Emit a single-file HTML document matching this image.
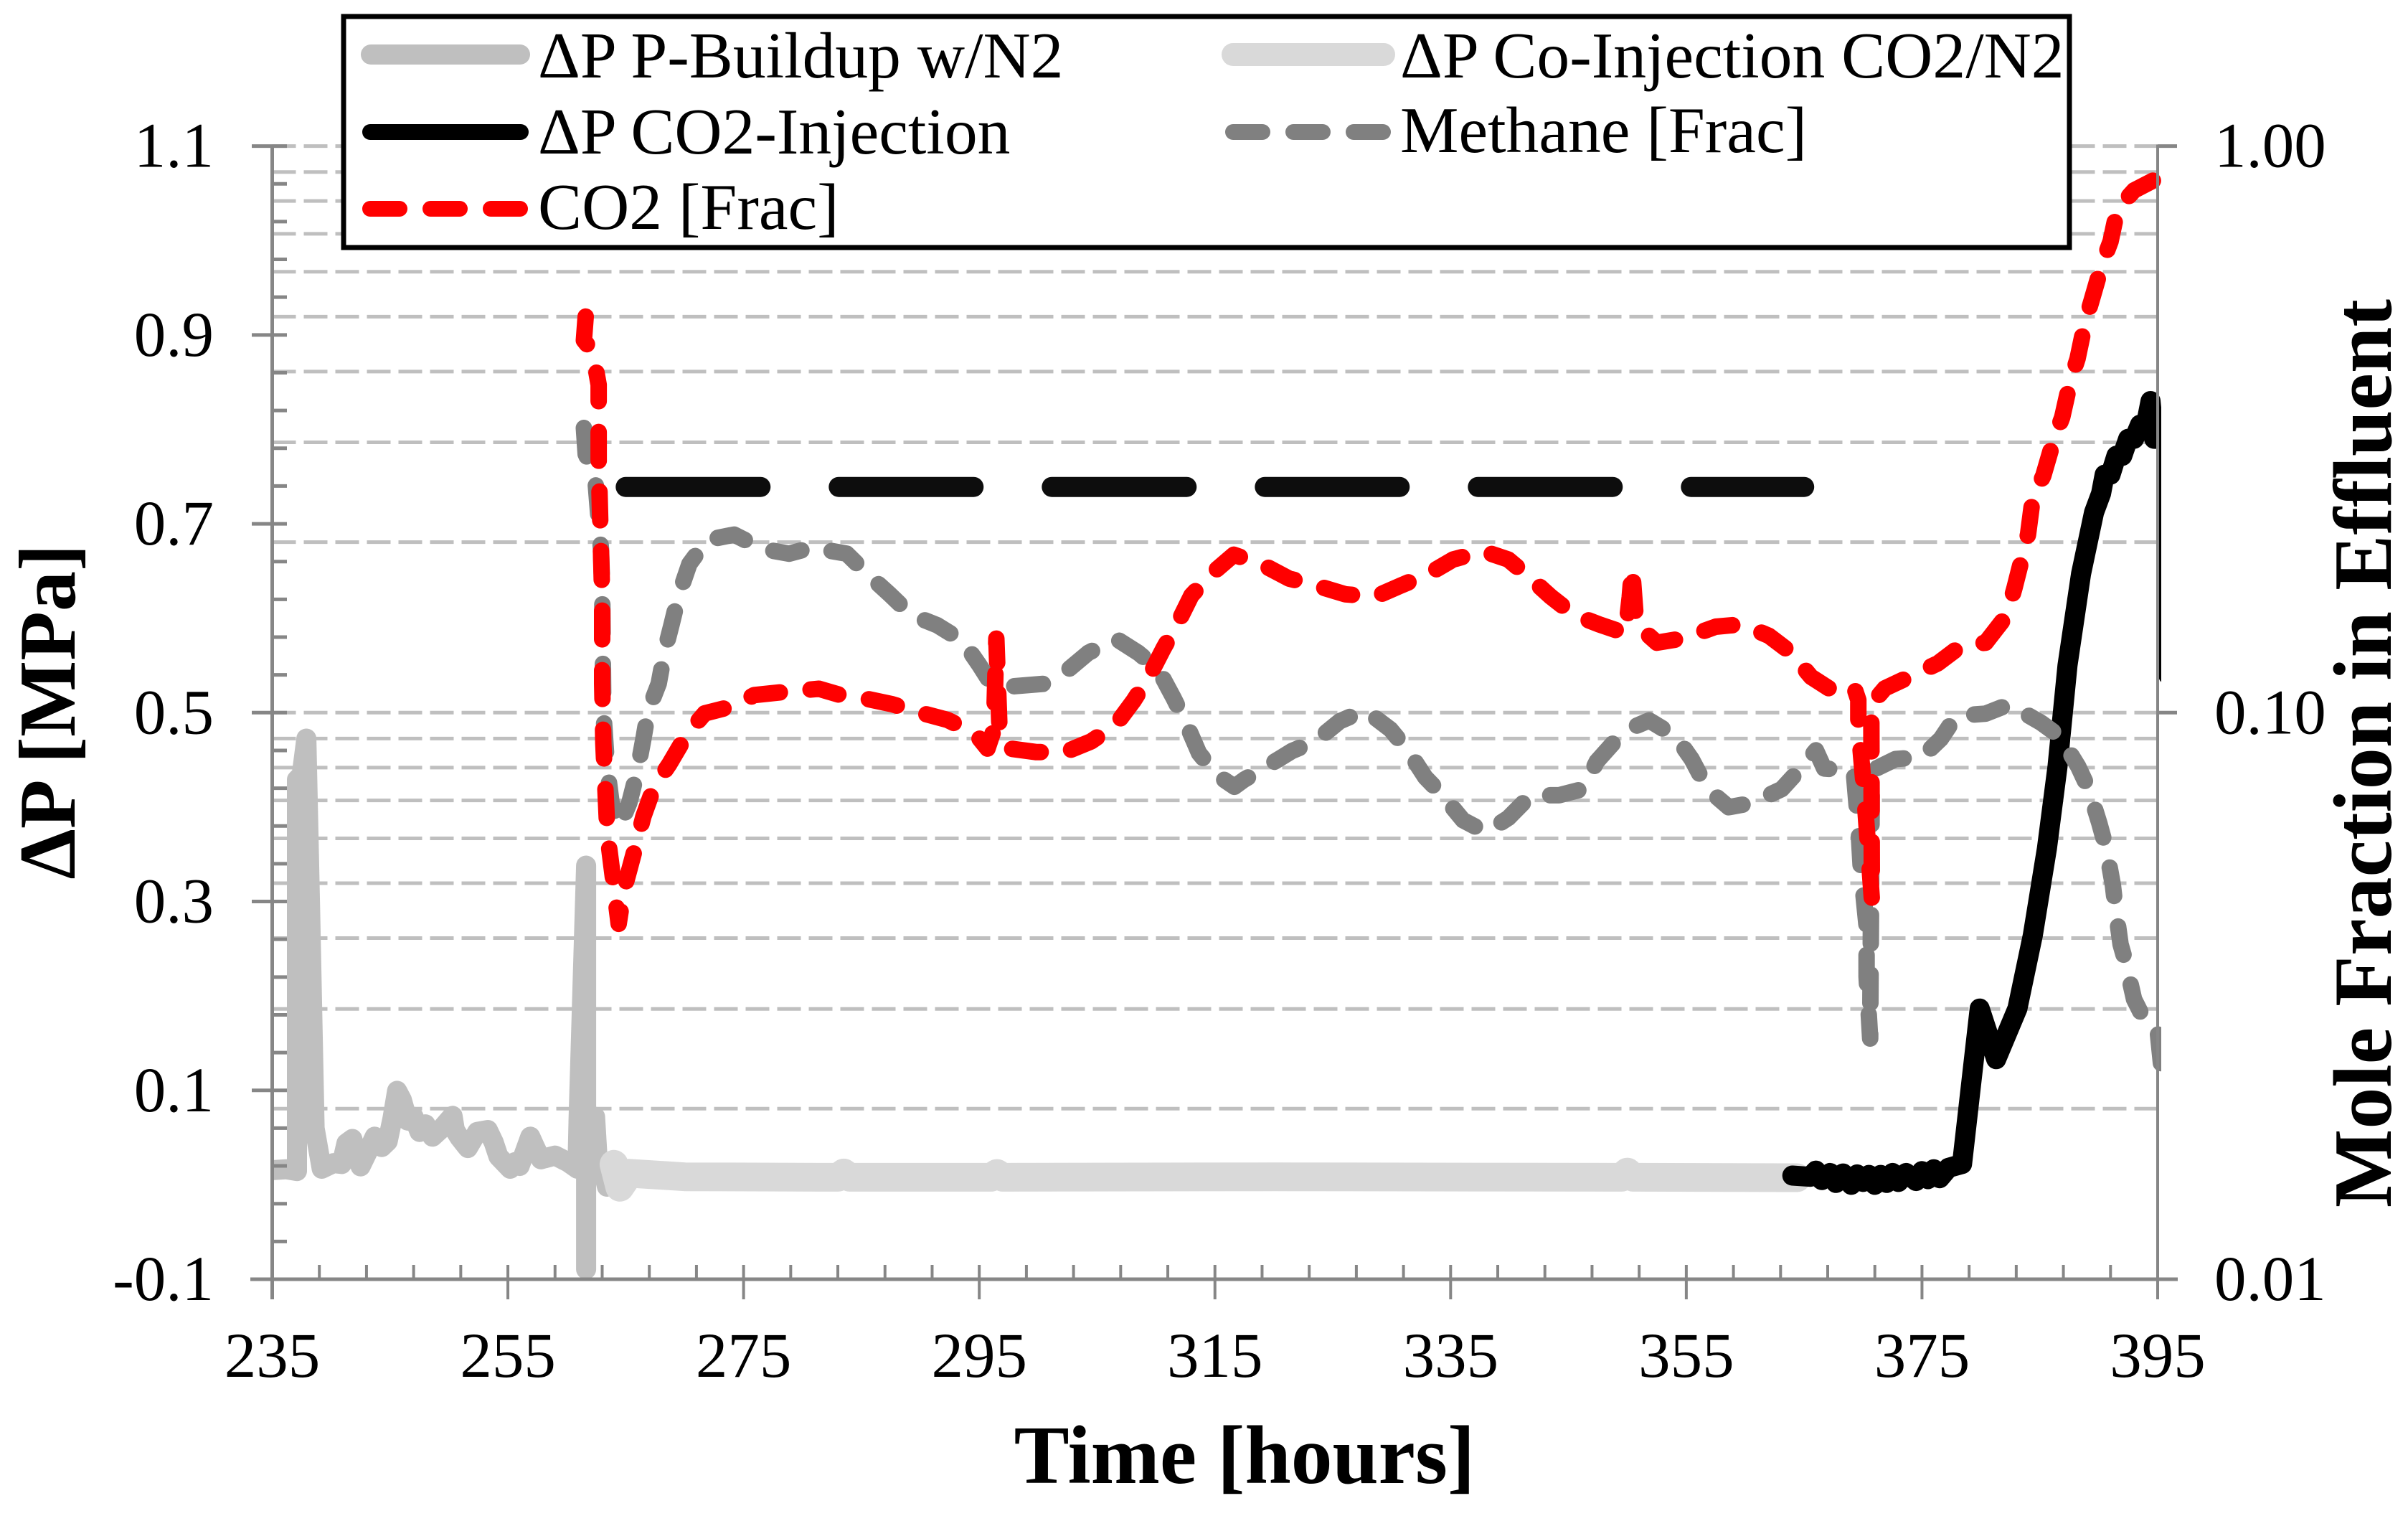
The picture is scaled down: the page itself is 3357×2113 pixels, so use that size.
<!DOCTYPE html>
<html lang="en">
<head>
<meta charset="utf-8">
<title>Differential pressure and effluent mole fraction versus time</title>
<style>
  html, body { margin: 0; padding: 0; background: #fff; }
  svg { display: block; font-family: "Liberation Serif", "Times New Roman", serif; }
  .tick-label { font-size: 89px; fill: #000; }
  .legend-label { font-size: 91.6px; fill: #000; }
  .axis-title { font-size: 115.5px; font-weight: bold; fill: #000; }
</style>
</head>
<body>
<svg id="chart" xmlns="http://www.w3.org/2000/svg" width="3357" height="2113" viewBox="0 0 3357 2113">
  <rect width="3357" height="2113" fill="#fff"/>
  <defs>
    <clipPath id="plot-clip"><rect x="379" y="150" width="2634" height="1640"/></clipPath>
  </defs>
  <g id="grid"></g>
  <g id="series" clip-path="url(#plot-clip)"></g>
  <g id="axes"></g>
  <g id="labels"></g>

  <text class="axis-title" x="1735" y="2067" text-anchor="middle">Time [hours]</text>
  <text class="axis-title" style="font-size:112.5px" text-anchor="middle" transform="translate(104 992) rotate(-90)">ΔP [MPa]</text>
  <text class="axis-title" style="font-size:116px" text-anchor="middle" transform="translate(3333 1050) rotate(-90)">Mole Fraction in Effluent</text>

  <g>
    <rect x="479" y="23" width="2406" height="322" fill="#fff" stroke="#000" stroke-width="7"/>
    <line x1="517" y1="76" x2="725" y2="76" stroke="#bfbfbf" stroke-width="28" stroke-linecap="round"/>
    <text class="legend-label" x="750" y="108">ΔP P-Buildup w/N2</text>
    <line x1="1719" y1="76" x2="1929" y2="76" stroke="#d9d9d9" stroke-width="32" stroke-linecap="round"/>
    <text class="legend-label" x="1952" y="108">ΔP Co-Injection CO2/N2</text>
    <line x1="516" y1="184" x2="726" y2="184" stroke="#000" stroke-width="22" stroke-linecap="round"/>
    <text class="legend-label" x="750" y="214">ΔP CO2-Injection</text>
    <line x1="1719" y1="184" x2="1929" y2="184" stroke="#808080" stroke-width="22" stroke-linecap="round" stroke-dasharray="41 43"/>
    <text class="legend-label" x="1952" y="212">Methane [Frac]</text>
    <line x1="516" y1="291" x2="726" y2="291" stroke="#ff0000" stroke-width="22" stroke-linecap="round" stroke-dasharray="41 43"/>
    <text class="legend-label" x="750" y="319">CO2 [Frac]</text>
  </g>
</svg>
<script>
// ---- tick labels ----
const xTickLabels = [235, 255, 275, 295, 315, 335, 355, 375, 395];
const leftTickLabels = ["-0.1", "0.1", "0.3", "0.5", "0.7", "0.9", "1.1"];
const rightTickLabels = ["0.01", "0.10", "1.00"];
const gridFractions = [0.02, 0.03, 0.04, 0.05, 0.06, 0.07, 0.08, 0.09, 0.1, 0.2, 0.3, 0.4, 0.5, 0.6, 0.7, 0.8, 0.9, 1];

// ---- dP during pressure buildup with N2 [hours, MPa] ----
const buildupHours = [235, 236.2, 237.1, 237.1, 237.5, 237.9, 238.2, 238.6, 239.2, 240.2, 240.9, 241.3, 241.8, 242.2, 242.5, 243.1, 243.7, 244.3, 244.8, 245.2, 245.6, 246.0, 246.5, 247.0, 247.5, 248.0, 248.6, 249.4, 250.3, 250.5, 250.9, 251.6, 252.4, 253.3, 253.8, 254.2, 255.2, 255.6, 256.0, 256.9, 257.3, 257.8, 259.0, 260.1, 260.9, 261.0, 261.64, 261.64, 261.64, 261.2, 261.0, 262.4, 262.6, 263.1, 263.4];
const buildupDp = [0.0155, 0.0165, 0.0146, 0.429, 0.434, 0.4725, 0.3, 0.06, 0.017, 0.023, 0.022, 0.044, 0.0485, 0.03, 0.0195, 0.035, 0.051, 0.04, 0.046, 0.07, 0.0995, 0.09, 0.068, 0.072, 0.056, 0.064, 0.051, 0.06, 0.073, 0.058, 0.05, 0.039, 0.056, 0.058, 0.045, 0.03, 0.017, 0.024, 0.02, 0.051, 0.04, 0.027, 0.031, 0.024, 0.017, 0.07, 0.338, -0.0895, 0.02, 0.072, 0.02, 0.072, 0.03, 0.015, -0.002];

// ---- dP during CO2/N2 co-injection [hours, MPa] ----
const coInjectionHours = [264, 264.5, 265.3, 270, 283, 283.5, 284, 296, 296.5, 297, 320, 349.5, 350, 350.5, 364.4];
const coInjectionDp = [0.0217, -0.0026, 0.0122, 0.0085, 0.008, 0.0125, 0.008, 0.008, 0.012, 0.008, 0.0085, 0.008, 0.0135, 0.008, 0.0075];

// ---- dP during CO2 injection [hours, MPa] ----
const co2InjectionHours = [364, 365.5, 366, 366.5, 367.2, 367.7, 368.3, 369, 369.5, 370, 370.5, 371, 371.5, 372, 372.5, 373, 373.65, 374.5, 375, 375.5, 376, 376.5, 377.25, 378.4, 379.9, 381.3, 383.1, 384.4, 385.6, 386.5, 387.35, 388.5, 389.6, 390.2, 390.5, 391, 391.5, 392, 392.5, 393, 393.5, 394, 394.4, 394.7, 395.9, 395.9];
const co2InjectionDp = [0.0098, 0.0085, 0.015, 0.005, 0.0125, 0.002, 0.012, 0.0, 0.011, 0.003, 0.0105, 0.0, 0.0105, 0.002, 0.0125, 0.003, 0.0125, 0.004, 0.0145, 0.006, 0.0165, 0.007, 0.018, 0.022, 0.1867, 0.133, 0.1867, 0.264, 0.356, 0.443, 0.55, 0.647, 0.712, 0.732, 0.752, 0.752, 0.772, 0.772, 0.79, 0.79, 0.805, 0.805, 0.83, 0.79, 0.79, 0.54];

// ---- unlabelled long-dash dP line [hours, MPa] ----
const longDashHours = [265, 365];
const longDashDp = [0.739, 0.739];

// ---- methane in effluent [hours, mole fraction] ----
const methaneHours = [261.45, 261.6, 262.4, 262.9, 263, 263.1, 263.4, 263.8, 264.5, 265.3, 266, 266.5, 266.9, 267.8, 268.3, 268.9, 269.5, 270.4, 271.9, 274.2, 276.6, 278.85, 280.8, 283.75, 285.5, 287.4, 289.2, 291.45, 293.6, 295, 296.15, 297.85, 300.4, 302.55, 304.25, 306.6, 308.5, 310.2, 311.5, 312.6, 313.65, 315.15, 316.65, 317.5, 319.2, 321.55, 323.5, 325.6, 327.75, 329.9, 331.4, 332.85, 334.2, 336.05, 338, 339.9, 341.8, 344.2, 346.25, 347.4, 348.95, 350.05, 351.85, 354.1, 355.45, 356.8, 358.6, 360.6, 363.1, 364.7, 366, 366.7, 369.2, 369.6, 369.8, 370.3, 370.3, 370.6, 370.75, 372.75, 375, 376.6, 377.9, 380.4, 382.4, 385.1, 386.7, 388.25, 389.15, 390.05, 390.65, 391.2, 391.4, 391.85, 392.3, 393, 394.1, 395, 395.4];
const methaneFrac = [0.318, 0.286, 0.262, 0.1946, 0.1662, 0.1007, 0.0804, 0.0693, 0.0631, 0.0693, 0.0791, 0.0899, 0.1007, 0.1125, 0.1282, 0.1433, 0.1614, 0.183, 0.2017, 0.2062, 0.1946, 0.1908, 0.1956, 0.1908, 0.1757, 0.1618, 0.1489, 0.1426, 0.1338, 0.1214, 0.1113, 0.1113, 0.1124, 0.1191, 0.1275, 0.1351, 0.1275, 0.1191, 0.106, 0.0953, 0.0848, 0.0777, 0.074, 0.0762, 0.0799, 0.0856, 0.089, 0.0966, 0.101, 0.0934, 0.0856, 0.0769, 0.0719, 0.0646, 0.0615, 0.0652, 0.0715, 0.0715, 0.0733, 0.082, 0.0891, 0.0934, 0.0969, 0.0908, 0.0828, 0.0733, 0.0681, 0.0693, 0.0733, 0.0797, 0.0858, 0.0797, 0.079, 0.0632, 0.0534, 0.042, 0.0342, 0.0266, 0.079, 0.0828, 0.0835, 0.0899, 0.0987, 0.0996, 0.1034, 0.096, 0.0908, 0.0804, 0.0733, 0.0638, 0.0575, 0.0496, 0.0456, 0.039, 0.0362, 0.0312, 0.0281, 0.0274, 0.0227];

// ---- CO2 in effluent [hours, mole fraction] ----
const co2Hours = [261.6, 261.45, 262.2, 262.7, 262.7, 263, 263, 263.1, 263.45, 263.8, 264.4, 264.85, 265.9, 266.5, 267.4, 268.7, 270.2, 271.7, 274.2, 275.9, 278.5, 281.4, 283.1, 285.25, 287.6, 290, 292.3, 294.65, 295.7, 296.25, 296.45, 296.7, 297.6, 299.8, 302.3, 304.5, 306.6, 308.1, 309.4, 310.65, 311.8, 313, 314.7, 316.6, 319, 321.3, 323.7, 326.05, 328.6, 330.7, 333.1, 335.2, 337.8, 339.9, 341.6, 343.5, 345.45, 347.6, 349.85, 350.2, 350.4, 350.75, 352.5, 354.8, 357.5, 359.7, 362, 363.8, 365.6, 367.1, 369.2, 369.6, 369.6, 370.05, 370.75, 370.7, 371.85, 373.9, 376.35, 378.4, 380.4, 382.2, 382.85, 384, 384.4, 385.3, 386.2, 386.9, 387.6, 388.2, 388.85, 389.4, 390.3, 391, 391.6, 393, 394.8, 395.7];
const co2Frac = [0.5, 0.454, 0.434, 0.379, 0.28, 0.16, 0.1125, 0.0883, 0.0609, 0.0534, 0.0424, 0.0487, 0.0587, 0.0656, 0.074, 0.0811, 0.0917, 0.0997, 0.1028, 0.1074, 0.1088, 0.1102, 0.1076, 0.106, 0.1035, 0.1, 0.0971, 0.092, 0.0864, 0.0935, 0.1351, 0.0962, 0.0864, 0.0852, 0.0852, 0.089, 0.0953, 0.105, 0.1157, 0.13, 0.1433, 0.161, 0.1757, 0.19, 0.1827, 0.1724, 0.1674, 0.1618, 0.1602, 0.1674, 0.1757, 0.1863, 0.1927, 0.1863, 0.174, 0.1602, 0.1489, 0.1432, 0.138, 0.16, 0.18, 0.1432, 0.1329, 0.1353, 0.1418, 0.1432, 0.1367, 0.1281, 0.1156, 0.1104, 0.1115, 0.1053, 0.0955, 0.0745, 0.0468, 0.1035, 0.1104, 0.1156, 0.1222, 0.1316, 0.1329, 0.1485, 0.166, 0.2064, 0.2394, 0.262, 0.3039, 0.3321, 0.3855, 0.4214, 0.4891, 0.5346, 0.6209, 0.6785, 0.7753, 0.835, 0.8733, 0.875];

// ---- axis functions ----
const NS = "http://www.w3.org/2000/svg";
const plotLeft = 379.5, plotRight = 3008, plotTop = 203.6, plotBottom = 1783;
const AXIS_COLOR = "#868686";
function xScale(h) { return plotLeft + (h - 235) / 160 * (plotRight - plotLeft); }
function yPressure(v) { return plotBottom - (v + 0.1) / 1.2 * (plotBottom - plotTop); }
function yFraction(f) { return plotBottom - (Math.log10(f) + 2) / 2 * (plotBottom - plotTop); }

function make(tag, attrs, parent) {
  const el = document.createElementNS(NS, tag);
  for (const k in attrs) el.setAttribute(k, attrs[k]);
  parent.appendChild(el);
  return el;
}
function tracePath(xs, ys, yFn) {
  return xs.map((h, i) => (i ? "L" : "M") + xScale(h).toFixed(1) + " " + yFn(ys[i]).toFixed(1)).join(" ");
}
function seriesLine(xs, ys, yFn, color, width, dash) {
  const attrs = { d: tracePath(xs, ys, yFn), fill: "none", stroke: color, "stroke-width": width, "stroke-linecap": "round", "stroke-linejoin": "round" };
  if (dash) attrs["stroke-dasharray"] = dash;
  return make("path", attrs, document.getElementById("series"));
}

// ---- gridlines ----
const gridGroup = document.getElementById("grid");
gridFractions.forEach(f => {
  const el = make("line", { x1: plotLeft, x2: plotRight, y1: yFraction(f), y2: yFraction(f), stroke: "#bfbfbf", "stroke-width": 5, "stroke-dasharray": "33 11" }, gridGroup);
  
  
});

// ---- series ----
const buildupLine = seriesLine(buildupHours, buildupDp, yPressure, "#bfbfbf", 28);



const coInjectionLine = seriesLine(coInjectionHours, coInjectionDp, yPressure, "#d9d9d9", 40);



const co2InjectionLine = seriesLine(co2InjectionHours, co2InjectionDp, yPressure, "#000000", 28);



const longDashLine = seriesLine(longDashHours, longDashDp, yPressure, "#0d0d0d", 28, "188 109");



const methaneLine = seriesLine(methaneHours, methaneFrac, yFraction, "#808080", 23, "40 43");



const co2Line = seriesLine(co2Hours, co2Frac, yFraction, "#ff0000", 23, "40 43");



// ---- axes and ticks ----
const axesGroup = document.getElementById("axes");
const leftAxis = make("line", { x1: plotLeft, x2: plotLeft, y1: plotTop - 2, y2: plotBottom + 28, stroke: AXIS_COLOR, "stroke-width": 5 }, axesGroup);


const rightAxis = make("line", { x1: plotRight, x2: plotRight, y1: plotTop - 2, y2: plotBottom + 28, stroke: AXIS_COLOR, "stroke-width": 4 }, axesGroup);


const bottomAxis = make("line", { x1: 349, x2: 3036, y1: plotBottom, y2: plotBottom, stroke: AXIS_COLOR, "stroke-width": 5 }, axesGroup);



// left axis: major every 0.2, minor every 0.04
for (let i = 0; i <= 30; i++) {
  const v = -0.1 + i * 0.04;
  const isMajor = i % 5 === 0;
  const tick = make("line", { x1: isMajor ? 351 : plotLeft, x2: 400, y1: yPressure(v), y2: yPressure(v), stroke: AXIS_COLOR, "stroke-width": 5 }, axesGroup);
  
  
}
// x axis: major every 20 h, minor every 4 h
for (let h = 235; h <= 395; h += 4) {
  const isMajor = (h - 235) % 20 === 0;
  const tick = make("line", { x1: xScale(h), x2: xScale(h), y1: plotBottom - 20, y2: isMajor ? plotBottom + 28 : plotBottom, stroke: AXIS_COLOR, "stroke-width": 4 }, axesGroup);
  
  
}
// right axis: decades
rightTickLabels.forEach(t => {
  const y = yFraction(parseFloat(t));
  const tick = make("line", { x1: plotRight, x2: 3035, y1: y, y2: y, stroke: AXIS_COLOR, "stroke-width": 5 }, axesGroup);
  
  
});

// ---- tick labels ----
const labelGroup = document.getElementById("labels");
function addLabel(text, x, y, anchor) {
  const el = make("text", { x: x, y: y, "text-anchor": anchor, class: "tick-label" }, labelGroup);
  el.textContent = text;
  return el;
}
xTickLabels.forEach(t => {
  const el = addLabel(String(t), xScale(t), 1919, "middle");
  
  
});
leftTickLabels.forEach(t => {
  const el = addLabel(t, 298, yPressure(parseFloat(t)) + 29, "end");
  
  
});
rightTickLabels.forEach(t => {
  const el = addLabel(t, 3087, yFraction(parseFloat(t)) + 29, "start");
  
  
});
</script>
</body>
</html>
